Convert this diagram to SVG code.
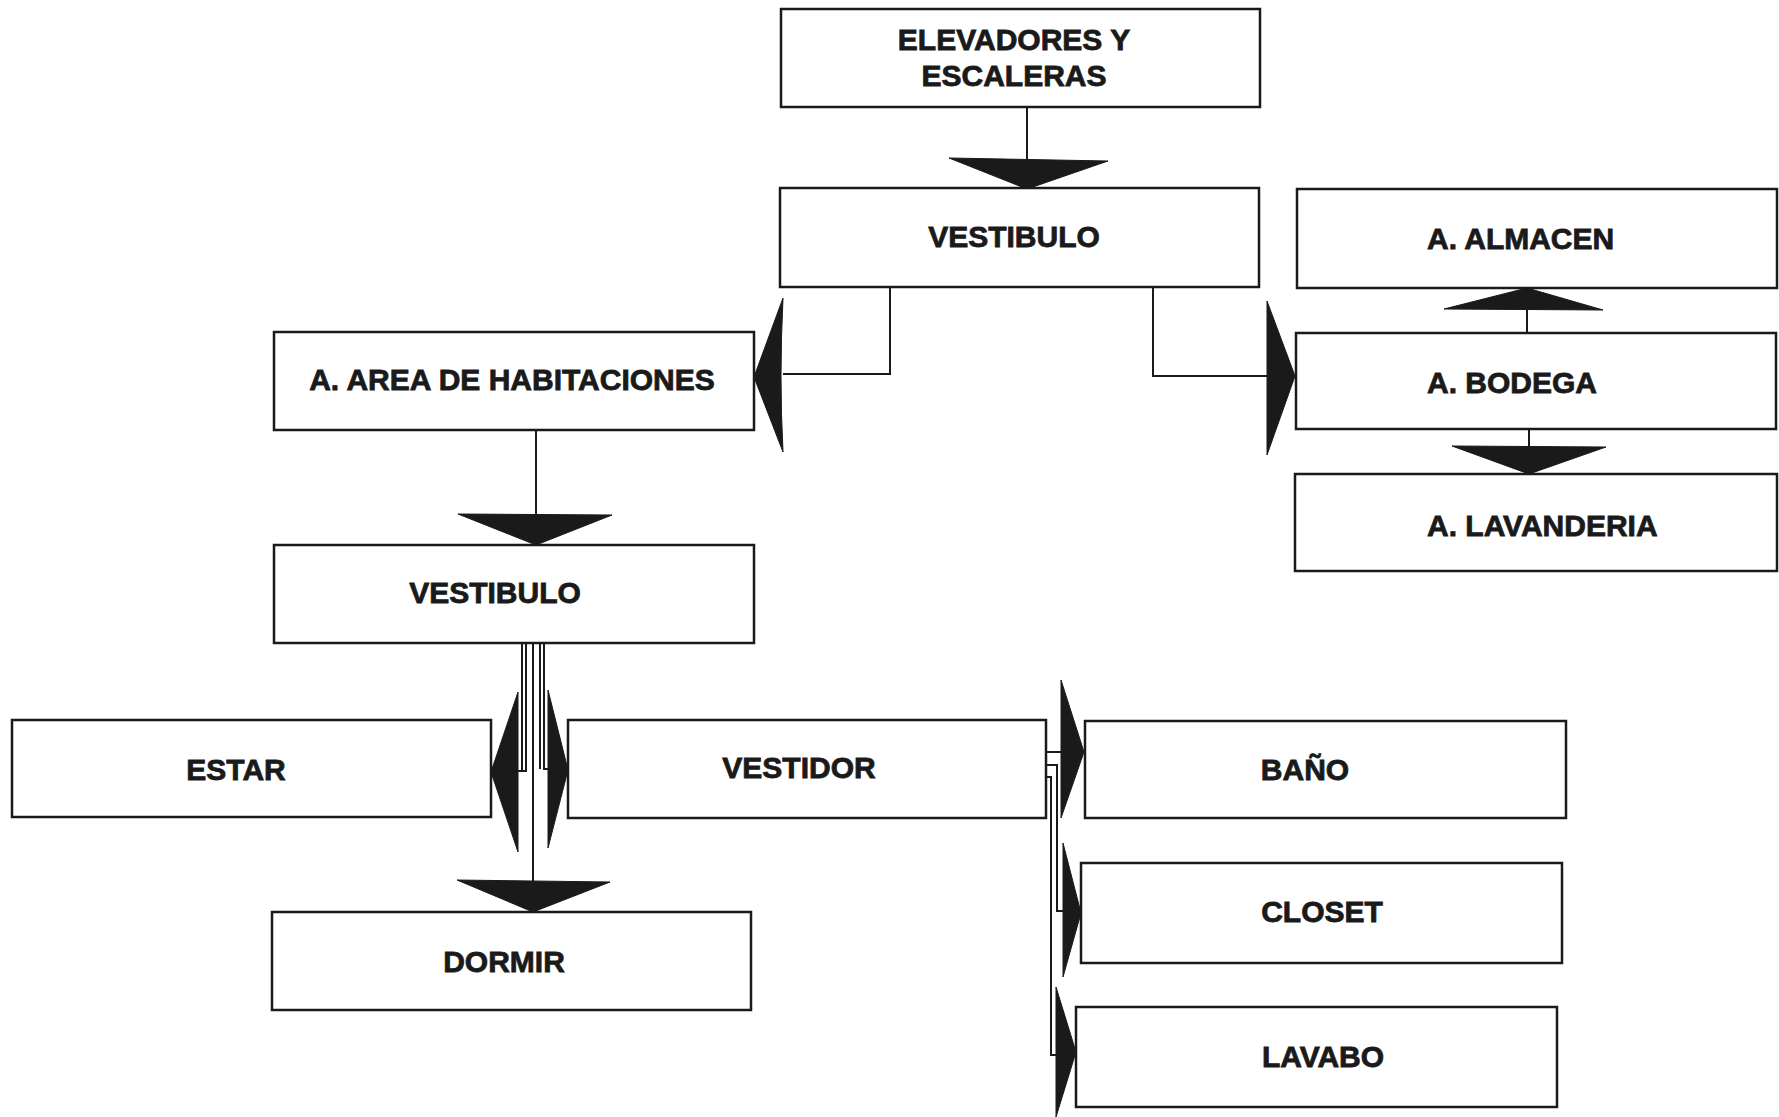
<svg xmlns="http://www.w3.org/2000/svg" width="1779" height="1117" viewBox="0 0 1779 1117">
<style>
.box{fill:#fff;stroke:#1a1a1a;stroke-width:2.5}
.lbl{font-family:"Liberation Sans",Arial,sans-serif;font-weight:bold;font-size:30px;fill:#1a1a1a;stroke:#1a1a1a;stroke-width:0.8;text-anchor:middle}
.lft{text-anchor:start}
.ln{fill:none;stroke:#1a1a1a;stroke-width:2}
.ah{fill:#1a1a1a;stroke:#1a1a1a;stroke-width:1;stroke-linejoin:round}
</style>
<rect width="1779" height="1117" fill="#fff"/>
<g id="connectors">
<path class="ln" d="M1027,107 V159"/>
<path class="ah" d="M949,158 L1108,161 L1027,189 Z"/>
<path class="ln" d="M890,287 V374 H783"/>
<path class="ah" d="M783,298 Q779,377 783,452 L754,377 Z"/>
<path class="ln" d="M1153,287 V376 H1267"/>
<path class="ah" d="M1267,301 L1267,455 L1295,376 Z"/>
<path class="ln" d="M1527,333 V309"/>
<path class="ah" d="M1444,309 L1603,310 L1527,288 Z"/>
<path class="ln" d="M1529,429 V447"/>
<path class="ah" d="M1452,446 L1606,447 L1529,474 Z"/>
<path class="ln" d="M536,430 V515"/>
<path class="ah" d="M458,514 L612,515 L536,545 Z"/>
<path class="ln" d="M522,643 V771 H518"/>
<path class="ln" d="M526,643 V771 H522"/>
<path class="ah" d="M518,692 L518,852 L491,772 Z"/>
<path class="ln" d="M540,643 V769"/>
<path class="ln" d="M544,643 V769 H548"/>
<path class="ah" d="M548,690 L548,848 L568,770 Z"/>
<path class="ln" d="M533,643 V882"/>
<path class="ah" d="M457,880 L610,882 L533,912 Z"/>
<path class="ln" d="M1046,752 H1061"/>
<path class="ah" d="M1061,680 L1061,818 L1084,752 Z"/>
<path class="ln" d="M1046,765 H1057 V911 H1063"/>
<path class="ah" d="M1063,843 L1063,977 L1081,913 Z"/>
<path class="ln" d="M1046,777 H1051 V1055 H1056"/>
<path class="ah" d="M1056,987 L1056,1117 L1076,1052 Z"/>
</g>
<g id="n-elevadores"><rect class="box" x="781" y="9" width="479" height="98"/><text class="lbl" x="1014" y="50">ELEVADORES Y</text><text class="lbl" x="1014" y="86">ESCALERAS</text></g>
<g id="n-vestibulo1"><rect class="box" x="780" y="188" width="479" height="99"/><text class="lbl" x="1014" y="247">VESTIBULO</text></g>
<g id="n-area"><rect class="box" x="274" y="332" width="480" height="98"/><text class="lbl" x="512" y="390">A. AREA DE HABITACIONES</text></g>
<g id="n-vestibulo2"><rect class="box" x="274" y="545" width="480" height="98"/><text class="lbl" x="495" y="603">VESTIBULO</text></g>
<g id="n-estar"><rect class="box" x="12" y="720" width="479" height="97"/><text class="lbl" x="236" y="780">ESTAR</text></g>
<g id="n-vestidor"><rect class="box" x="568" y="720" width="478" height="98"/><text class="lbl" x="799" y="778">VESTIDOR</text></g>
<g id="n-dormir"><rect class="box" x="272" y="912" width="479" height="98"/><text class="lbl" x="504" y="972">DORMIR</text></g>
<g id="n-bano"><rect class="box" x="1085" y="721" width="481" height="97"/><text class="lbl" x="1305" y="780">BAÑO</text></g>
<g id="n-closet"><rect class="box" x="1081" y="863" width="481" height="100"/><text class="lbl" x="1322" y="922">CLOSET</text></g>
<g id="n-lavabo"><rect class="box" x="1076" y="1007" width="481" height="100"/><text class="lbl" x="1323" y="1067">LAVABO</text></g>
<g id="n-almacen"><rect class="box" x="1297" y="189" width="480" height="99"/><text class="lbl lft" x="1427" y="249">A. ALMACEN</text></g>
<g id="n-bodega"><rect class="box" x="1296" y="333" width="480" height="96"/><text class="lbl lft" x="1427" y="393">A. BODEGA</text></g>
<g id="n-lavanderia"><rect class="box" x="1295" y="474" width="482" height="97"/><text class="lbl lft" x="1427" y="536">A. LAVANDERIA</text></g>
</svg>
